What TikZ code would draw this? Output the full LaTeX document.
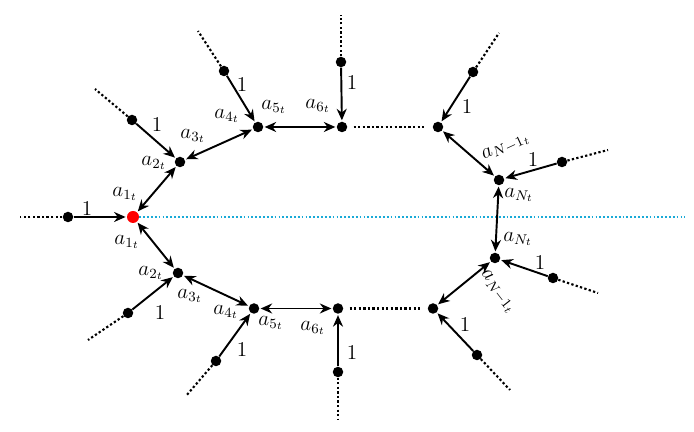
\documentclass[tikz,border=0pt]{standalone}
\usepackage{amsmath}
\usetikzlibrary{arrows.meta}

\definecolor{axisblue}{RGB}{25,170,215}

\begin{document}
\begin{tikzpicture}[
    junction/.style={circle, fill=black, inner sep=0pt, minimum size=2.1mm},
    oneway/.style={line width=1.1pt, -{Stealth[length=2.3mm,width=2mm]}, shorten >=0.6pt},
    twoway/.style={line width=1.1pt, {Stealth[length=2.3mm,width=2mm]}-{Stealth[length=2.3mm,width=2mm]}, shorten >=0.6pt, shorten <=0.6pt},
    tail/.style={line width=1.2pt, dash pattern=on 1.3pt off 1.3pt},
    gap/.style={tail, shorten >=1.2mm, shorten <=1.2mm},
    lab/.style={inner sep=0pt, font=\large}
]
    \useasboundingbox (0,0) rectangle (13.88,8.64);

    % Root
    \node[junction, fill=red, minimum size=2.4mm] (R) at (2.66,4.30) {};

    % Junctions on the ring
    \foreach \n/\x/\y in {u2/3.60/5.40, u4/5.16/6.10, u6/6.84/6.10, uF/8.76/6.10, uN/9.98/5.04,
                          d2/3.56/3.18, d4/5.08/2.47, d6/6.76/2.47, dF/8.66/2.47, dN/9.90/3.48} {
        \node[junction] (\n) at (\x,\y) {};
    }

    % Leaves with dotted tails
    \foreach \n/\x/\y/\ex/\ey in {L/1.36/4.30/0.40/4.30, u2l/2.64/6.24/1.90/6.86, u4l/4.48/7.22/3.96/8.02,
                                  u6l/6.82/7.40/6.82/8.34, uFl/9.46/7.20/9.98/7.98, uNl/11.24/5.40/12.16/5.64,
                                  d2l/2.56/2.38/1.76/1.84, d4l/4.32/1.42/3.72/0.72, d6l/6.76/1.20/6.76/0.24,
                                  dFl/9.54/1.54/10.20/0.84, dNl/11.06/3.08/11.96/2.78} {
        \node[junction] (\n) at (\x,\y) {};
        \coordinate (\n e) at (\ex,\ey);
        \draw[tail] (\n) -- (\n e);
    }

    % Axis through the root
    \coordinate (axisend) at (13.70,4.30);
    \draw[axisblue, line width=1pt, dash pattern=on 1pt off 1.2pt] (R) -- (axisend);

    % Unit inflows
    \foreach \a/\b in {L/R, u2l/u2, u4l/u4, u6l/u6, uFl/uF, uNl/uN, d2l/d2, d4l/d4, d6l/d6, dFl/dF, dNl/dN} {
        \draw[oneway] (\a) -- (\b);
    }

    % Ring links
    \foreach \a/\b in {R/u2, u2/u4, u4/u6, uF/uN, uN/dN, R/d2, d2/d4, d4/d6, dF/dN} {
        \draw[twoway] (\a) -- (\b);
    }
    \draw[gap] (u6) -- (uF);
    \draw[gap] (d6) -- (dF);

    % Unit labels
    \foreach \n/\x/\y in {oL/1.74/4.46, ou2/3.14/6.14, ou4/4.84/6.94, ou6/7.04/6.98, ouF/9.34/6.50, ouN/10.66/5.44,
                          od2/3.20/2.38, od4/4.84/1.64, od6/7.04/1.58, odF/9.30/2.14, odN/10.80/3.38} {
        \node[lab] (\n) at (\x,\y) {$1$};
    }

    % Upper labels
    \node[lab] (a1u) at (2.50,4.76) {$a_{1_t}$};
    \node[lab] (a2u) at (3.08,5.38) {$a_{2_t}$};
    \node[lab] (a3u) at (3.86,5.92) {$a_{3_t}$};
    \node[lab] (a4u) at (4.54,6.32) {$a_{4_t}$};
    \node[lab] (a5u) at (5.48,6.50) {$a_{5_t}$};
    \node[lab] (a6u) at (6.36,6.52) {$a_{6_t}$};
    \node[lab, rotate=25] (aMu) at (10.12,5.70) {$a_{N-1_t}$};
    \node[lab] (aNu) at (10.38,4.74) {$a_{N_t}$};

    % Lower labels
    \node[lab] (a1d) at (2.54,3.80) {$a_{1_t}$};
    \node[lab] (a2d) at (3.02,3.18) {$a_{2_t}$};
    \node[lab] (a3d) at (3.80,2.72) {$a_{3_t}$};
    \node[lab] (a4d) at (4.52,2.40) {$a_{4_t}$};
    \node[lab] (a5d) at (5.42,2.18) {$a_{5_t}$};
    \node[lab] (a6d) at (6.26,2.08) {$a_{6_t}$};
    \node[lab, rotate=-52] (aMd) at (9.96,2.80) {$a_{N-1_t}$};
    \node[lab] (aNd) at (10.36,3.86) {$a_{N_t}$};
\end{tikzpicture}
\end{document}
